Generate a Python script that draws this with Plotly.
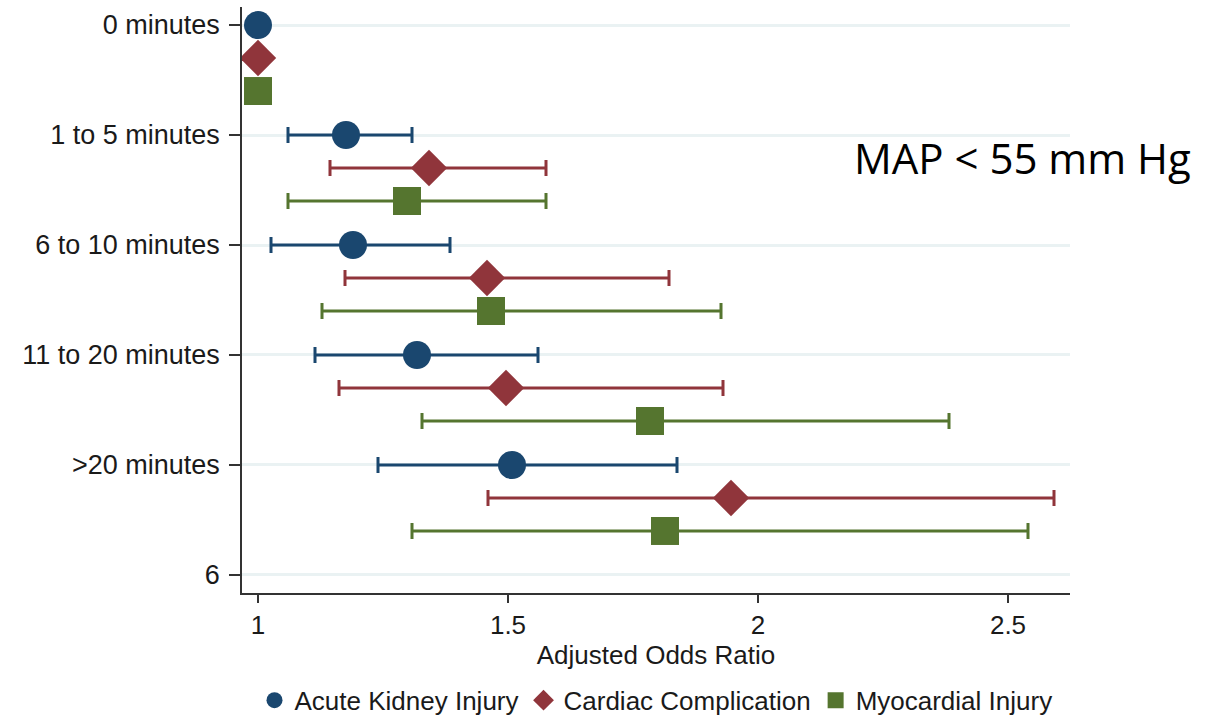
import plotly.graph_objects as go

categories = ["0 minutes", "1 to 5 minutes", "6 to 10 minutes", "11 to 20 minutes", ">20 minutes"]
extra_tick = "6"

aki_or = [1.0, 1.176, 1.19, 1.318, 1.508]
aki_lo = [None, 1.06, 1.026, 1.114, 1.24]
aki_hi = [None, 1.308, 1.384, 1.56, 1.838]

cardiac_or = [1.0, 1.342, 1.458, 1.496, 1.946]
cardiac_lo = [None, 1.144, 1.174, 1.162, 1.46]
cardiac_hi = [None, 1.576, 1.822, 1.93, 2.592]

myo_or = [1.0, 1.298, 1.466, 1.784, 1.814]
myo_lo = [None, 1.06, 1.128, 1.328, 1.308]
myo_hi = [None, 1.576, 1.926, 2.382, 2.54]

series_names = ["Acute Kidney Injury", "Cardiac Complication", "Myocardial Injury"]
x_ticks = [1, 1.5, 2, 2.5]
annotation_text = "MAP < 55 mm Hg"

colors = ["#1a476f", "#90353b", "#55752f"]
symbols = ["circle", "diamond", "square"]
offsets = [0.0, 0.3, 0.6]

fig = go.Figure()
all_series = [(aki_or, aki_lo, aki_hi), (cardiac_or, cardiac_lo, cardiac_hi), (myo_or, myo_lo, myo_hi)]
for i, (est, lo, hi) in enumerate(all_series):
    ys = [k + 1 + offsets[i] for k in range(len(categories))]
    plus = [None if h is None else h - e for e, h in zip(est, hi)]
    minus = [None if l is None else e - l for e, l in zip(est, lo)]
    fig.add_trace(go.Scatter(
        x=est, y=ys, mode="markers", name=series_names[i],
        marker=dict(symbol=symbols[i], size=28, color=colors[i], line=dict(width=0)),
        error_x=dict(type="data", symmetric=False, array=plus, arrayminus=minus,
                     color=colors[i], thickness=3, width=8),
    ))

tickvals = list(range(1, len(categories) + 2))
ticktext = categories + [extra_tick]

font_main = "Liberation Sans, Arial, sans-serif"
fig.update_layout(
    width=1218, height=722,
    margin=dict(l=242, r=148, t=7, b=129, autoexpand=False),
    plot_bgcolor="white", paper_bgcolor="white",
    font=dict(family=font_main, size=26, color="#1a1a1a"),
    showlegend=True,
    legend=dict(orientation="h", x=0.5, xanchor="center", y=-0.143, yanchor="top",
                font=dict(size=26, color="#1a1a1a"), itemsizing="trace",
                tracegroupgap=0, itemwidth=30),
    xaxis=dict(range=[0.968, 2.624], tickvals=x_ticks, ticktext=[str(t) for t in x_ticks],
               showgrid=False, zeroline=False, showline=True, linecolor="#333333", linewidth=1.5,
               ticks="outside", ticklen=8, tickcolor="#333333", tickwidth=1.5,
               tickfont=dict(size=26), title=dict(text="Adjusted Odds Ratio", font=dict(size=26), standoff=2)),
    yaxis=dict(range=[6.164, 0.836], tickvals=tickvals, ticktext=ticktext,
               showgrid=True, gridcolor="#eaf2f3", gridwidth=3, zeroline=False,
               showline=True, linecolor="#333333", linewidth=1.5,
               ticks="outside", ticklen=11, tickcolor="#333333", tickwidth=1.5,
               ticklabelstandoff=4, tickfont=dict(size=27)),
)

fig.add_annotation(text=annotation_text, xref="paper", yref="paper", x=1.0 + (1193 - 1070) / 828, y=1 - (157 - 7) / 586,
                   xanchor="right", yanchor="middle", showarrow=False,
                   font=dict(family="Open Sans, sans-serif", size=42, color="black"))

fig.write_html("out.html")
